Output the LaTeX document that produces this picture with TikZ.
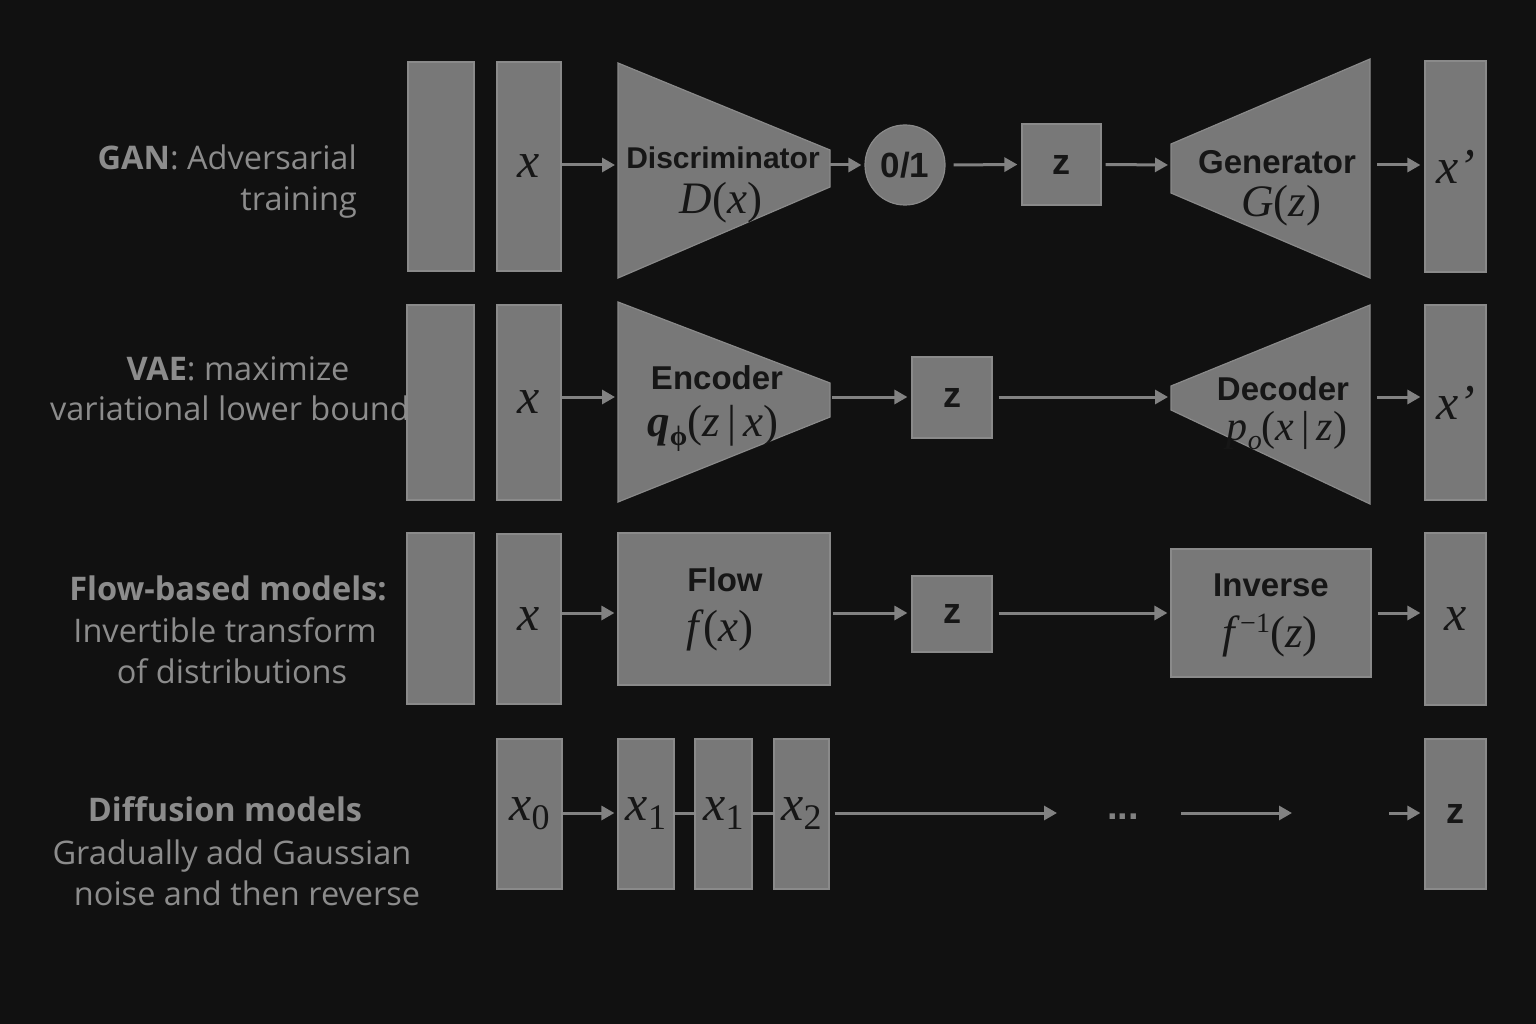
\documentclass[tikz,border=0pt]{standalone}
\usepackage{fontspec}
\newfontfamily\boxfont{Liberation Sans}
\newfontfamily\labfont{Open Sans}
\newfontfamily\serif{Liberation Serif}
\newcommand\vi[1]{\textit{#1}}
\usetikzlibrary{arrows.meta}
\definecolor{bg}{HTML}{111111}
\definecolor{boxfill}{HTML}{787878}
\definecolor{boxline}{HTML}{8A8A8A}
\definecolor{ink}{HTML}{161616}
\definecolor{labgray}{HTML}{8C8C8C}
\definecolor{arrowgray}{HTML}{828282}
\tikzset{
  blk/.style={draw=boxline, fill=boxfill, line width=1.2pt, inner sep=0pt, text=ink},
  trap/.style={draw=boxline, fill=boxfill, line width=1.2pt},
  mth/.style={font=\serif\fontsize{45}{50}\selectfont, text=ink, inner sep=0pt},
  bigx/.style={font=\serif\fontsize{50}{56}\selectfont, text=ink},
  ttl/.style={font=\boxfont\bfseries\fontsize{33}{40}\selectfont, text=ink, inner sep=0pt},
  zlab/.style={font=\boxfont\bfseries\fontsize{36}{40}\selectfont, text=ink},
  conn/.style={draw=arrowgray, line width=3pt, -{Triangle[length=13pt,width=14pt]}},
  plainconn/.style={draw=arrowgray, line width=3pt},
  lab/.style={font=\labfont\fontsize{32.5}{40}\selectfont, text=labgray, inner sep=0pt},
}
\begin{document}
\begin{tikzpicture}[x=1pt,y=-1pt]
\fill[bg] (0,0) rectangle (1536,1024);
\useasboundingbox (0,0) rectangle (1536,1024);

% ---------- left labels ----------
\node[lab, anchor=base east] (lgan1) at (357,170) {\textbf{GAN}: Adversarial};
\node[lab, anchor=base east] (lgan2) at (357,211) {training};
\node[lab, anchor=base] (lvae1) at (238,380) {\textbf{VAE}: maximize};
\node[lab, anchor=base] (lvae2) at (230,420) {variational lower bound};
\node[lab, anchor=base] (lflow1) at (228,600) {\textbf{Flow-based models:}};
\node[lab, anchor=base] (lflow2) at (225,642) {Invertible transform};
\node[lab, anchor=base] (lflow3) at (232,683) {of distributions};
\node[lab, anchor=base] (ldif1) at (225,821) {\textbf{Diffusion models}};
\node[lab, anchor=base] (ldif2) at (232,864) {Gradually add Gaussian};
\node[lab, anchor=base] (ldif3) at (247,905) {noise and then reverse};

% ---------- GAN row ----------
\node[blk, minimum width=66pt, minimum height=209pt] (g0) at (441,166.5) {};
\node[blk, minimum width=64pt, minimum height=209pt, bigx] (gx) at (529,166.5) {\vi{x}};
\filldraw[trap] (618,63) -- (830,150) -- (830,187) -- (618,278) -- cycle;
\coordinate (discL) at (618,165);
\coordinate (discR) at (830,165);
\node[ttl, font=\boxfont\bfseries\fontsize{30}{36}\selectfont] (disct) at (723,158) {Discriminator};
\node[mth] (discf) at (721,203) {\vi{D}(\vi{x})};
\node[blk, circle, minimum size=80pt, ttl, font=\boxfont\bfseries\fontsize{35}{40}\selectfont] (circ) at (905,165) {0/1};
\node[blk, minimum width=79pt, minimum height=81pt, zlab] (gz) at (1061.5,164.5) {z};
\filldraw[trap] (1171,144) -- (1370,59) -- (1370,278) -- (1171,193) -- cycle;
\coordinate (genL) at (1171,165);
\coordinate (genR) at (1370,165);
\node[ttl] (gent) at (1277,162) {Generator};
\node[mth] (genf) at (1281,206) {\vi{G}(\vi{z})};
\node[blk, minimum width=61pt, minimum height=211pt, bigx] (gxp) at (1455.5,166.5) {\vi{x’}};

\draw[conn, shorten >=3pt] (gx.east |- discL) -- (discL);
\draw[conn, shorten >=3pt] (discR) -- (circ.west);
\draw[conn, shorten <=8pt, shorten >=4pt] (circ.east) -- (gz.west);
\draw[conn, shorten <=4pt, shorten >=3pt] (gz.east) -- (genL);
\draw[conn, shorten <=7pt, shorten >=4pt] (genR) -- (gxp.west |- genR);

% ---------- VAE row ----------
\node[blk, minimum width=67pt, minimum height=195pt] (v0) at (440.5,402.5) {};
\node[blk, minimum width=64pt, minimum height=195pt, bigx] (vx) at (529,402.5) {\vi{x}};
\filldraw[trap] (618,302) -- (830,383) -- (830,417) -- (618,502) -- cycle;
\coordinate (encL) at (618,397);
\coordinate (encR) at (830,397);
\node[ttl] (enct) at (717,378) {Encoder};
\node[mth] (encf) at (713,428) {\textbf{\vi{q}}\raisebox{-9pt}{\fontsize{28}{30}\selectfont\bfseries ϕ}(\vi{z}\,|\,\vi{x})};
\node[blk, minimum width=80pt, minimum height=81pt, zlab] (vz) at (952,397.5) {z};
\filldraw[trap] (1171,386) -- (1370,305) -- (1370,504) -- (1171,410) -- cycle;
\coordinate (decL) at (1171,397);
\coordinate (decR) at (1370,397);
\node[ttl] (dect) at (1283,389) {Decoder};
\node[mth, font=\serif\fontsize{42}{48}\selectfont] (decf) at (1287,431) {\vi{p}\raisebox{-9pt}{\fontsize{28}{30}\selectfont\vi{o}}(\vi{x}\,|\,\vi{z})};
\node[blk, minimum width=61pt, minimum height=195pt, bigx] (vxp) at (1455.5,402.5) {\vi{x’}};

\draw[conn, shorten >=3pt] (vx.east |- encL) -- (encL);
\draw[conn, shorten <=2pt, shorten >=4pt] (encR) -- (vz.west |- encR);
\draw[conn, shorten <=6pt, shorten >=3pt] (vz.east |- decL) -- (decL);
\draw[conn, shorten <=7pt, shorten >=4pt] (decR) -- (vxp.west |- decR);

% ---------- Flow row ----------
\node[blk, minimum width=67pt, minimum height=171pt] (f0) at (440.5,618.5) {};
\node[blk, minimum width=64pt, minimum height=170pt, bigx] (fx) at (529,619) {\vi{x}};
\node[blk, minimum width=212pt, minimum height=152pt] (flow) at (724,609) {};
\node[ttl] (flowt) at (725,580) {Flow};
\node[mth] (flowf) at (720,630) {\vi{f}(\vi{x})};
\node[blk, minimum width=80pt, minimum height=76pt, zlab] (fz) at (952,614) {z};
\node[blk, minimum width=200pt, minimum height=128pt] (inv) at (1271,613) {};
\node[ttl] (invt) at (1271,585) {Inverse};
\node[mth] (invf) at (1270,636) {\vi{f}\raisebox{15pt}{\fontsize{28}{30}\selectfont −1}(\vi{z})};
\node[blk, minimum width=61pt, minimum height=172pt, bigx] (fxo) at (1455.5,619) {\vi{x}};
\coordinate (frow) at (0,613);

\draw[conn, shorten >=3pt] (fx.east |- frow) -- (flow.west |- frow);
\draw[conn, shorten <=2pt, shorten >=4pt] (flow.east |- frow) -- (fz.west |- frow);
\draw[conn, shorten <=6pt, shorten >=3pt] (fz.east |- frow) -- (inv.west |- frow);
\draw[conn, shorten <=6pt, shorten >=4pt] (inv.east |- frow) -- (fxo.west |- frow);

% ---------- Diffusion row ----------
\node[blk, minimum width=65pt, minimum height=150pt, bigx] (d0) at (529.5,814) {\vi{x}\raisebox{-9pt}{\fontsize{36}{40}\selectfont 0}};
\node[blk, minimum width=56pt, minimum height=150pt, bigx] (d1) at (646,814) {\vi{x}\raisebox{-9pt}{\fontsize{36}{40}\selectfont 1}};
\node[blk, minimum width=57pt, minimum height=150pt, bigx] (d2) at (723.5,814) {\vi{x}\raisebox{-9pt}{\fontsize{36}{40}\selectfont 1}};
\node[blk, minimum width=55pt, minimum height=150pt, bigx] (d3) at (801.5,814) {\vi{x}\raisebox{-9pt}{\fontsize{36}{40}\selectfont 2}};
\node[blk, minimum width=61pt, minimum height=150pt, zlab] (dz) at (1455.5,814) {z};
\coordinate (p1) at (1057,813);
\node[ttl, text=arrowgray, font=\boxfont\bfseries\fontsize{38}{40}\selectfont] (dots) at (1123,817) {...};
\coordinate (p2) at (1181,813);
\coordinate (p3) at (1292,813);
\coordinate (p4) at (1389,813);

\draw[conn, shorten >=3pt] (d0.east |- p1) -- (d1.west |- p1);
\draw[plainconn] (d1.east |- p1) -- (d2.west |- p1);
\draw[plainconn] (d2.east |- p1) -- (d3.west |- p1);
\draw[conn, shorten <=5pt] (d3.east |- p1) -- (p1);
\draw[conn] (p2) -- (p3);
\draw[conn, shorten >=4pt] (p4) -- (dz.west |- p4);
\end{tikzpicture}
\end{document}
